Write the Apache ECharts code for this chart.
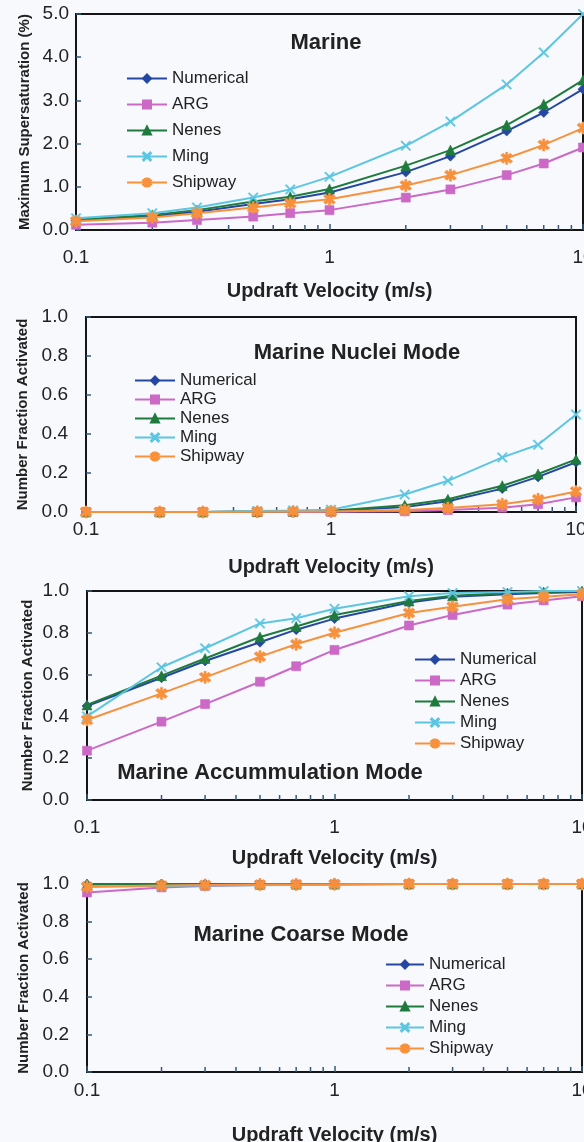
<!DOCTYPE html>
<html>
<head>
<meta charset="utf-8">
<script src="https://cdn.jsdelivr.net/npm/echarts@6/dist/echarts.min.js"></script>
<style>
  html, body { margin: 0; padding: 0; background: #f8f9fd; }
  #chart { width: 584px; height: 1142px; }
</style>
</head>
<body>
<div id="chart"></div>
<script>
// Updraft velocities (m/s) at which each parameterization was evaluated
const velocity = [0.1, 0.2, 0.3, 0.5, 0.7, 1, 2, 3, 5, 7, 10];
const minorTickValues = [0.2, 0.3, 0.4, 0.5, 0.6, 0.7, 0.8, 0.9, 2, 3, 4, 5, 6, 7, 8, 9];
const methods = ['Numerical', 'ARG', 'Nenes', 'Ming', 'Shipway'];

// Marine: maximum supersaturation (%)
const supersatNumerical = [0.22, 0.32, 0.42, 0.60, 0.71, 0.87, 1.34, 1.71, 2.29, 2.72, 3.26];
const supersatARG       = [0.12, 0.17, 0.23, 0.31, 0.39, 0.46, 0.75, 0.94, 1.27, 1.54, 1.91];
const supersatNenes     = [0.24, 0.35, 0.46, 0.66, 0.77, 0.95, 1.49, 1.85, 2.43, 2.91, 3.47];
const supersatMing      = [0.27, 0.39, 0.52, 0.75, 0.94, 1.23, 1.95, 2.51, 3.37, 4.11, 5.00];
const supersatShipway   = [0.20, 0.29, 0.39, 0.52, 0.62, 0.71, 1.03, 1.27, 1.66, 1.97, 2.36];

// Marine nuclei mode: number fraction activated
const nucleiNumerical = [0, 0, 0, 0.002, 0.003, 0.005, 0.025, 0.055, 0.120, 0.180, 0.255];
const nucleiARG       = [0, 0, 0, 0.000, 0.000, 0.001, 0.004, 0.010, 0.022, 0.040, 0.075];
const nucleiNenes     = [0, 0, 0, 0.002, 0.004, 0.006, 0.035, 0.065, 0.135, 0.195, 0.270];
const nucleiMing      = [0, 0, 0, 0.005, 0.008, 0.012, 0.090, 0.160, 0.280, 0.345, 0.500];
const nucleiShipway   = [0, 0, 0, 0.001, 0.002, 0.003, 0.010, 0.020, 0.040, 0.065, 0.105];

// Marine accumulation mode: number fraction activated
const accumNumerical = [0.450, 0.585, 0.665, 0.755, 0.815, 0.868, 0.945, 0.972, 0.985, 0.990, 0.995];
const accumARG       = [0.236, 0.375, 0.459, 0.566, 0.640, 0.718, 0.835, 0.885, 0.935, 0.955, 0.975];
const accumNenes     = [0.455, 0.595, 0.677, 0.780, 0.830, 0.885, 0.952, 0.977, 0.990, 0.995, 1.000];
const accumMing      = [0.400, 0.635, 0.726, 0.845, 0.870, 0.915, 0.975, 0.990, 0.995, 1.000, 1.000];
const accumShipway   = [0.383, 0.510, 0.587, 0.686, 0.745, 0.800, 0.895, 0.925, 0.960, 0.972, 0.985];

// Marine coarse mode: number fraction activated
const coarseNumerical = [0.998, 1.000, 1.000, 1.000, 1.000, 1.000, 1.000, 1.000, 1.000, 1.000, 1.000];
const coarseARG       = [0.955, 0.982, 0.990, 0.995, 0.997, 0.998, 1.000, 1.000, 1.000, 1.000, 1.000];
const coarseNenes     = [1.000, 1.000, 1.000, 1.000, 1.000, 1.000, 1.000, 1.000, 1.000, 1.000, 1.000];
const coarseMing      = [0.985, 0.990, 0.992, 0.994, 0.995, 0.996, 1.000, 1.000, 1.000, 1.000, 1.000];
const coarseShipway   = [0.985, 0.992, 0.995, 0.997, 0.998, 0.999, 1.000, 1.000, 1.000, 1.000, 1.000];

const panelTitles = ['Marine', 'Marine Nuclei Mode', 'Marine Accummulation Mode', 'Marine Coarse Mode'];
const yAxisNames = ['Maximum Supersaturation (%)', 'Number Fraction Activated',
                    'Number Fraction Activated', 'Number Fraction Activated'];
const xAxisName = 'Updraft Velocity (m/s)';

const panelValues = [
  [supersatNumerical, supersatARG, supersatNenes, supersatMing, supersatShipway],
  [nucleiNumerical, nucleiARG, nucleiNenes, nucleiMing, nucleiShipway],
  [accumNumerical, accumARG, accumNenes, accumMing, accumShipway],
  [coarseNumerical, coarseARG, coarseNenes, coarseMing, coarseShipway]
];

// ---- styling ----
const FONT = '"Liberation Sans", Arial, Helvetica, sans-serif';
const TEXT = '#222222';
const FRAME = '#151515';
const TICK = '#35597a';

const X_MARK = 'path://M1,0 L5,4 L9,0 L10,1 L6,5 L10,9 L9,10 L5,6 L1,10 L0,9 L4,5 L0,1 Z';
const STAR_MARK = 'path://M2,0 L5,3 L8,0 L10,2 L7,5 L10,8 L8,10 L5,7 L2,10 L0,8 L3,5 L0,2 Z M4.1,-1 L5.9,-1 L5.9,11 L4.1,11 Z';

const methodStyle = {
  Numerical: { color: '#2447a3', symbol: 'diamond', size: 10 },
  ARG:       { color: '#cc68c6', symbol: 'rect', size: 9 },
  Nenes:     { color: '#1f7b3d', symbol: 'triangle', size: 10 },
  Ming:      { color: '#5cc6e2', symbol: X_MARK, size: 10 },
  Shipway:   { color: '#f7913c', symbol: STAR_MARK, size: 12 }
};

const panels = [
  { grid: { left: 76, top: 14, width: 507, height: 216 }, yMax: 5, yStep: 1,
    xLabelMargin: 18, yLabelMargin: 7, xNameGap: 51, yNameGap: 44,
    title: [326, 43], legend: { left: 126, top: 70, gap: 9, width: 40 } },
  { grid: { left: 86, top: 317, width: 490, height: 195 }, yMax: 1, yStep: 0.2,
    xLabelMargin: 8, yLabelMargin: 18, xNameGap: 45, yNameGap: 56,
    title: [357, 353], legend: { left: 134, top: 372, gap: 2, width: 40 } },
  { grid: { left: 87, top: 591, width: 495, height: 209 }, yMax: 1, yStep: 0.2,
    xLabelMargin: 18, yLabelMargin: 18, xNameGap: 48, yNameGap: 52,
    title: [270, 773], legend: { left: 414, top: 651, gap: 4, width: 40 } },
  { grid: { left: 87, top: 884, width: 495, height: 188 }, yMax: 1, yStep: 0.2,
    xLabelMargin: 9, yLabelMargin: 18, xNameGap: 53, yNameGap: 56,
    title: [301, 935], legend: { left: 385, top: 956, gap: 4, width: 38 } }
];

const grid = [], xAxis = [], yAxis = [], series = [], legend = [], graphic = [];

panels.forEach((p, i) => {
  grid.push(Object.assign({ show: true, borderColor: FRAME, borderWidth: 2,
    backgroundColor: 'transparent', outerBoundsMode: 'none', containLabel: false }, p.grid));

  xAxis.push({
    type: 'log', logBase: 10, min: 0.1, max: 10, gridIndex: i,
    name: xAxisName, nameLocation: 'middle', nameGap: p.xNameGap, nameMoveOverlap: false,
    nameTextStyle: { fontFamily: FONT, fontSize: 20, fontWeight: 'bold', color: TEXT },
    axisLine: { show: true, lineStyle: { color: FRAME, width: 2 } },
    axisTick: { show: true, inside: true, length: 6, lineStyle: { color: TICK, width: 1.5 } },
    minorTick: { show: false },
    splitLine: { show: false },
    axisLabel: { margin: p.xLabelMargin, fontFamily: FONT, fontSize: 19, color: TEXT,
      formatter: v => (v < 1 ? v.toFixed(1) : String(Math.round(v))) }
  });

  yAxis.push({
    type: 'value', min: 0, max: p.yMax, interval: p.yStep, gridIndex: i,
    name: yAxisNames[i], nameLocation: 'middle', nameGap: p.yNameGap, nameRotate: 90,
    nameMoveOverlap: false,
    nameTextStyle: { fontFamily: FONT, fontSize: 15, fontWeight: 'bold', color: TEXT },
    axisLine: { show: true, lineStyle: { color: FRAME, width: 2 } },
    axisTick: { show: true, inside: true, length: 5, lineStyle: { color: TICK, width: 1.5 } },
    splitLine: { show: false },
    axisLabel: { margin: p.yLabelMargin, fontFamily: FONT, fontSize: 19, color: TEXT,
      formatter: v => v.toFixed(1) }
  });

  methods.forEach((m, k) => {
    const st = methodStyle[m];
    series.push({
      type: 'line', name: m, xAxisIndex: i, yAxisIndex: i,
      data: velocity.map((v, j) => [v, panelValues[i][k][j]]),
      symbol: st.symbol, symbolSize: st.size, showAllSymbol: true,
      clip: false, smooth: false, z: 4 + k,
      lineStyle: { color: st.color, width: 2 },
      itemStyle: { color: st.color, borderColor: st.color, borderWidth: 0.6 },
      emphasis: { disabled: true }
    });
  });

  // log-axis minor ticks along the bottom edge
  series.push({
    type: 'custom', xAxisIndex: i, yAxisIndex: i, silent: true, clip: false, z: 3,
    data: minorTickValues.map(v => [v, 0]),
    renderItem: (params, api) => {
      const pt = api.coord([api.value(0), 0]);
      return { type: 'line', shape: { x1: pt[0], y1: pt[1], x2: pt[0], y2: pt[1] - 5 },
        style: { stroke: TICK, lineWidth: 1.5 } };
    }
  });

  legend.push({
    data: methods, orient: 'vertical', left: p.legend.left, top: p.legend.top,
    itemGap: p.legend.gap, itemWidth: p.legend.width, itemHeight: 10, padding: 0,
    selectedMode: false,
    textStyle: { fontFamily: FONT, fontSize: 17, color: TEXT, lineHeight: 17 }
  });

  graphic.push({
    type: 'text', x: p.title[0], y: p.title[1], z: 10,
    style: { text: panelTitles[i], fontFamily: FONT, fontSize: 22, fontWeight: 'bold',
      fill: TEXT, textAlign: 'center', textVerticalAlign: 'middle' }
  });
});

const chart = echarts.init(document.getElementById('chart'), null, { renderer: 'canvas' });
chart.setOption({
  backgroundColor: '#f8f9fd',
  animation: false,
  grid, xAxis, yAxis, series, legend, graphic
});
</script>
</body>
</html>
